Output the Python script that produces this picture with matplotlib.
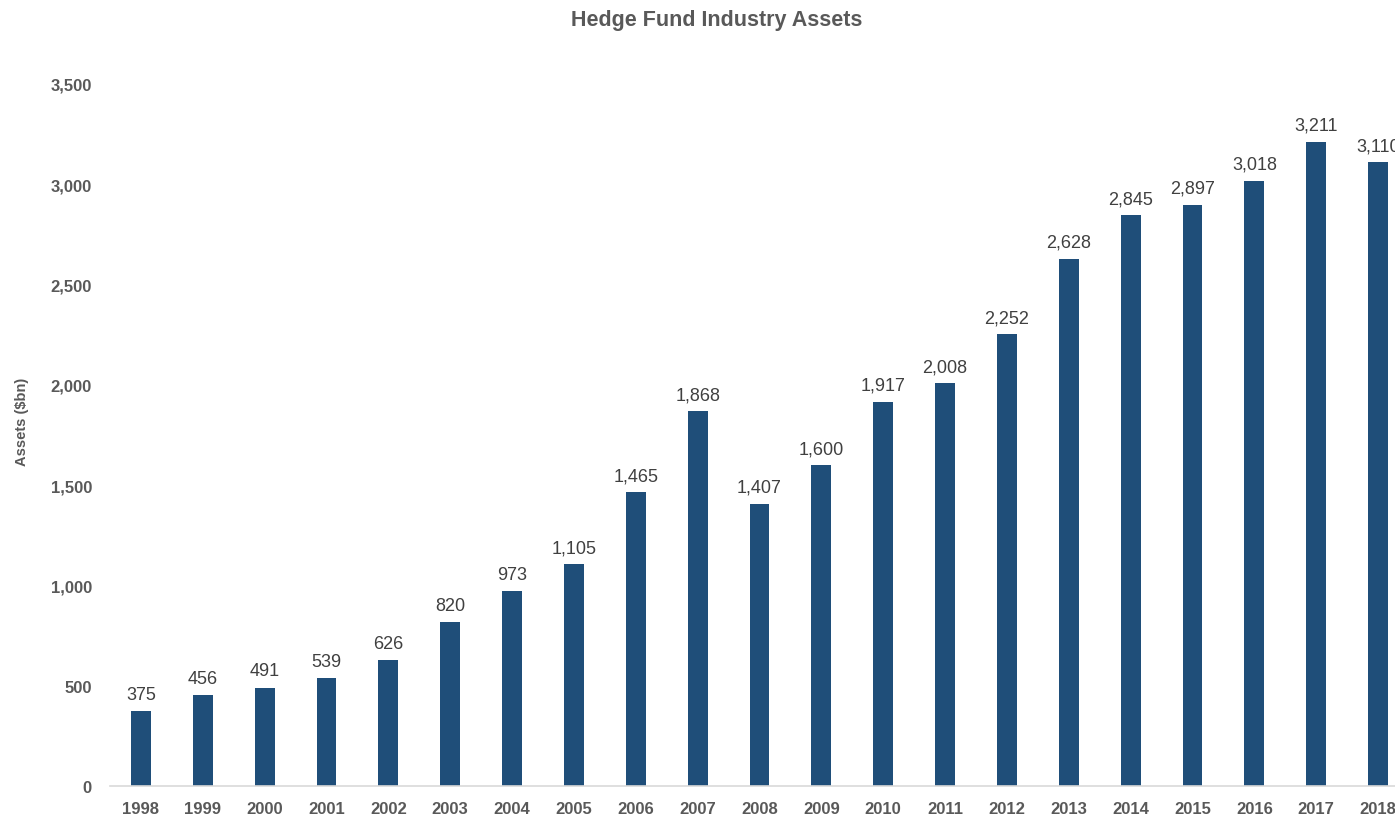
import matplotlib
matplotlib.use('Agg')
import matplotlib.pyplot as plt
from matplotlib.ticker import FuncFormatter

# Datos del gráfico
years = ['1998', '1999', '2000', '2001', '2002', '2003', '2004', '2005', '2006', '2007',
         '2008', '2009', '2010', '2011', '2012', '2013', '2014', '2015', '2016', '2017', '2018']
assets = [375, 456, 491, 539, 626, 820, 973, 1105, 1465, 1868,
          1407, 1600, 1917, 2008, 2252, 2628, 2845, 2897, 3018, 3211, 3110]

plt.rcParams['font.family'] = ['Liberation Sans', 'DejaVu Sans']
grey = '#595959'
bar_color = '#1F4E79'

fig = plt.figure(figsize=(13.95, 8.2), dpi=100)
ax = fig.add_axes([110 / 1395, 33 / 820, 1299 / 1395, 702 / 820])

x = range(len(years))
ax.bar(x, assets, width=0.32, color=bar_color, zorder=2)

# Etiquetas de valores sobre cada barra
for xi, v in zip(x, assets):
    ax.text(xi, v + 40, f'{v:,}', ha='center', va='bottom', fontsize=13, color='#404040')

ax.set_xlim(-0.5, len(years) - 0.5)
ax.set_ylim(0, 3500)
ax.set_yticks(range(0, 3501, 500))
ax.yaxis.set_major_formatter(FuncFormatter(lambda v, p: f'{int(v):,}'))
ax.set_xticks(list(x))
ax.set_xticklabels(years)

for lab in ax.get_xticklabels() + ax.get_yticklabels():
    lab.set_fontweight('bold')
    lab.set_color(grey)
    lab.set_fontsize(12)

ax.tick_params(axis='both', length=0)
ax.tick_params(axis='y', pad=13)
ax.tick_params(axis='x', pad=11)

for s in ['top', 'right', 'left']:
    ax.spines[s].set_visible(False)
ax.spines['bottom'].set_color('#D9D9D9')
ax.spines['bottom'].set_linewidth(1.2)

ax.set_ylabel('Assets ($bn)', fontsize=10.5, fontweight='bold', color=grey)
ax.yaxis.set_label_coords(-0.062, 0.52)

fig.text(0.514, 0.975, 'Hedge Fund Industry Assets', ha='center', va='center',
         fontsize=15.5, fontweight='bold', color=grey)

fig.savefig('out.png', dpi=100)
